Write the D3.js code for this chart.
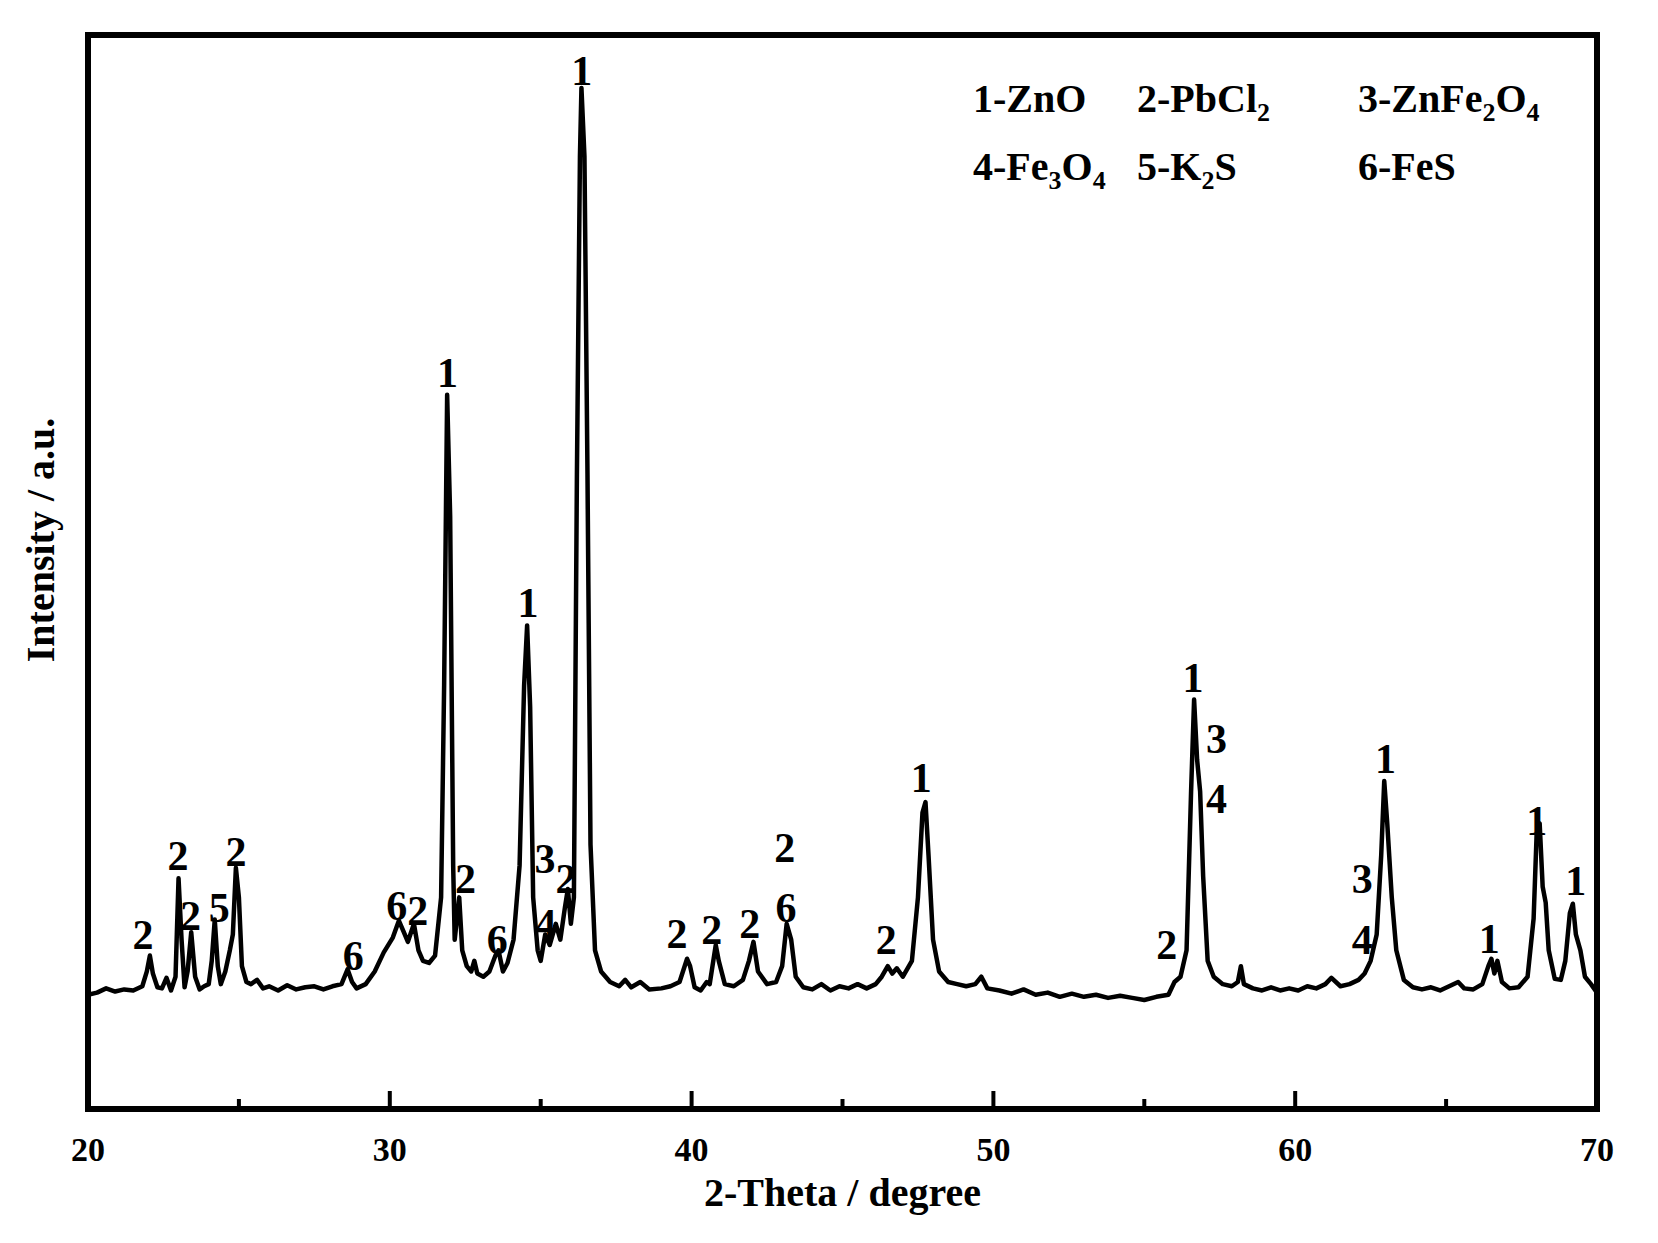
<!DOCTYPE html>
<html><head><meta charset="utf-8">
<script src="https://cdn.jsdelivr.net/npm/d3@7"></script>
<style>body{margin:0;background:#fff}text{font-family:"Liberation Serif","Times New Roman",serif;font-weight:bold;fill:#000}</style>
</head><body><svg id="c" width="1658" height="1243"></svg>
<script>
// XRD trace: [2-theta, intensity]
var trace = [[20.0,108],[20.3,110],[20.6,114],[20.9,111],[21.2,113],[21.5,112],[21.8,116],[21.95,130],[22.05,145],[22.15,128],[22.3,115],[22.45,114],[22.6,124],[22.75,112],[22.9,125],[23.0,218],[23.1,160],[23.2,115],[23.3,130],[23.42,167],[23.55,125],[23.7,113],[23.85,116],[24.0,118],[24.1,140],[24.2,179],[24.3,135],[24.4,118],[24.55,130],[24.7,150],[24.8,165],[24.9,228],[25.0,200],[25.1,135],[25.25,120],[25.4,118],[25.6,122],[25.8,114],[26.0,116],[26.3,112],[26.6,117],[26.9,113],[27.2,115],[27.5,116],[27.8,113],[28.1,116],[28.4,118],[28.6,132],[28.75,120],[28.9,114],[29.2,118],[29.5,130],[29.8,148],[30.1,162],[30.3,178],[30.45,168],[30.6,158],[30.8,175],[30.95,150],[31.1,140],[31.3,138],[31.5,145],[31.7,200],[31.8,400],[31.9,675],[32.0,560],[32.1,230],[32.15,160],[32.3,200],[32.4,150],[32.55,135],[32.7,130],[32.8,140],[32.9,128],[33.1,125],[33.3,130],[33.5,145],[33.6,150],[33.75,130],[33.9,138],[34.1,160],[34.3,230],[34.45,400],[34.55,457],[34.65,380],[34.75,200],[34.9,150],[35.0,140],[35.15,165],[35.3,155],[35.5,175],[35.65,160],[35.8,190],[35.9,208],[36.0,175],[36.1,200],[36.2,600],[36.3,900],[36.35,965],[36.45,900],[36.55,600],[36.65,250],[36.8,150],[37.0,130],[37.3,120],[37.6,116],[37.8,122],[38.0,115],[38.3,120],[38.6,113],[39.0,114],[39.3,116],[39.6,120],[39.85,142],[39.95,135],[40.1,115],[40.3,112],[40.5,120],[40.6,118],[40.8,155],[40.9,140],[41.1,118],[41.4,116],[41.7,122],[41.9,140],[42.05,158],[42.2,130],[42.5,118],[42.8,120],[43.0,135],[43.15,175],[43.3,160],[43.45,125],[43.7,115],[44.0,113],[44.3,118],[44.6,112],[44.9,116],[45.2,114],[45.5,118],[45.8,114],[46.1,118],[46.3,125],[46.5,135],[46.65,128],[46.8,133],[47.0,125],[47.3,140],[47.5,200],[47.65,280],[47.75,290],[47.85,240],[48.0,160],[48.2,130],[48.5,120],[48.8,118],[49.1,116],[49.4,118],[49.6,125],[49.8,114],[50.2,112],[50.6,109],[51.0,113],[51.4,108],[51.8,110],[52.2,106],[52.6,109],[53.0,106],[53.4,108],[53.8,105],[54.2,107],[54.6,105],[55.0,103],[55.4,106],[55.8,108],[56.0,120],[56.2,125],[56.4,150],[56.55,300],[56.65,387],[56.75,330],[56.85,300],[56.95,220],[57.1,140],[57.3,125],[57.6,118],[57.9,116],[58.1,120],[58.2,135],[58.3,118],[58.6,114],[58.9,112],[59.2,115],[59.5,112],[59.8,114],[60.1,112],[60.4,116],[60.7,114],[61.0,118],[61.2,124],[61.5,116],[61.8,118],[62.1,122],[62.3,128],[62.5,140],[62.7,165],[62.85,240],[62.95,310],[63.05,270],[63.2,200],[63.35,150],[63.6,122],[63.9,115],[64.2,113],[64.5,115],[64.8,112],[65.1,116],[65.4,120],[65.6,114],[65.9,113],[66.2,118],[66.4,135],[66.5,142],[66.6,128],[66.7,140],[66.85,120],[67.1,114],[67.4,115],[67.7,125],[67.9,180],[68.0,260],[68.1,270],[68.2,210],[68.3,195],[68.4,150],[68.6,123],[68.8,122],[68.95,140],[69.1,185],[69.2,194],[69.3,165],[69.45,150],[69.6,125],[69.8,118],[70.0,110]];

// peak labels: [2-theta, intensity, phase number]
var peakLabels = [[21.82,157,'2'],[22.98,232,'2'],[23.40,175,'2'],[24.35,182,'5'],[24.90,235,'2'],
  [28.79,137,'6'],[30.23,184,'6'],[30.93,180,'2'],[32.51,210,'2'],[33.56,152,'6'],[31.91,688,'1'],
  [34.58,471,'1'],[35.14,229,'3'],[35.84,210,'2'],[35.17,167,'4'],[36.36,973,'1'],
  [39.52,158,'2'],[40.67,162,'2'],[41.93,167,'2'],[43.13,182,'6'],[43.09,239,'2'],[46.45,152,'2'],
  [47.61,305,'1'],[55.74,147,'2'],[56.61,400,'1'],[57.39,342,'3'],[57.39,285,'4'],
  [62.22,210,'3'],[62.22,152,'4'],[62.99,323,'1'],[66.43,153,'1'],[68.0,265,'1'],[69.3,208,'1']];

var legendRows = [
  [['1-ZnO'],['2-PbCl','2'],['3-ZnFe','2','O','4']],
  [['4-Fe','3','O','4'],['5-K','2','S'],['6-FeS']]];

var xTicks = [20, 30, 40, 50, 60, 70];

var L = 88, R = 1597, T = 35, B = 1109;
var svg = d3.select('#c');
var x = d3.scaleLinear().domain([20, 70]).range([L, R]);
var y = d3.scaleLinear().domain([0, 1015]).range([B, T]);

// trace
svg.append('path')
    .datum(trace)
    .attr('d', d3.line().x(function(d){ return x(d[0]); }).y(function(d){ return y(d[1]); }))
    .attr('fill', 'none').attr('stroke', '#000').attr('stroke-width', 4.5)
    .attr('stroke-linejoin', 'round');

// bottom axis ticks inward
var minor = d3.range(25, 70, 10);
svg.selectAll('.maj').data(xTicks.slice(1, -1)).enter().append('line')
    .attr('x1', x).attr('x2', x).attr('y1', B).attr('y2', B - 18)
    .attr('stroke', '#000').attr('stroke-width', 4);
svg.selectAll('.min').data(minor).enter().append('line')
    .attr('x1', x).attr('x2', x).attr('y1', B).attr('y2', B - 10)
    .attr('stroke', '#000').attr('stroke-width', 4);
svg.selectAll('.tl').data(xTicks).enter().append('text')
    .attr('x', x).attr('y', 1161).attr('text-anchor', 'middle')
    .style('font-size', '34px').text(function(d){ return d; });

// frame
svg.append('rect').attr('x', L).attr('y', T).attr('width', R - L).attr('height', B - T)
    .attr('fill', 'none').attr('stroke', '#000').attr('stroke-width', 6);

// titles
svg.append('text').attr('x', (L + R) / 2).attr('y', 1206).attr('text-anchor', 'middle')
    .style('font-size', '40px').text('2-Theta / degree');
svg.append('text').attr('transform', 'translate(54,540) rotate(-90)').attr('text-anchor', 'middle')
    .style('font-size', '40px').text('Intensity / a.u.');

// peak labels
svg.selectAll('.pk').data(peakLabels).enter().append('text')
    .attr('x', function(d){ return x(d[0]); }).attr('y', function(d){ return y(d[1]) + 6; })
    .attr('text-anchor', 'middle').style('font-size', '42px')
    .text(function(d){ return d[2]; });

// legend
var colX = [973, 1137, 1358], rowY = [112, 180];
legendRows.forEach(function(row, r){
    row.forEach(function(parts, c){
        var t = svg.append('text').attr('x', colX[c]).attr('y', rowY[r]).style('font-size', '40px');
        parts.forEach(function(p, i){
            var sub = i % 2 === 1;
            t.append('tspan').text(p)
                .attr('dy', sub ? 9 : (i > 0 ? -9 : 0))
                .style('font-size', sub ? '26px' : '40px');
        });
    });
});
</script></body></html>
